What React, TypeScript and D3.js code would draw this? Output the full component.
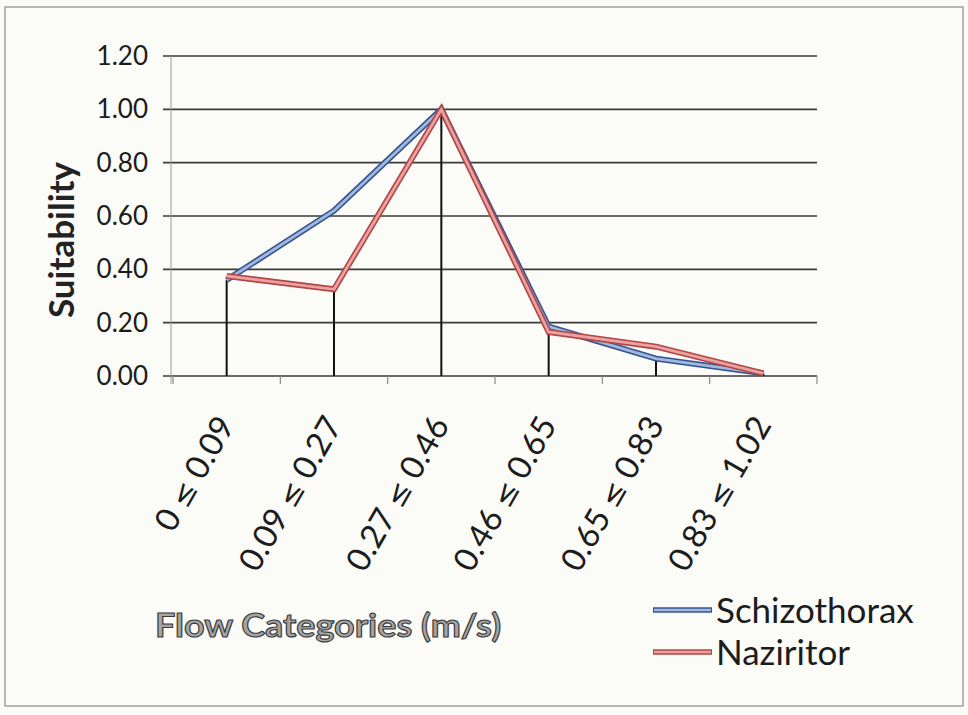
import React from "react";
import * as d3 from "d3";

const categories = ["0 ≤ 0.09", "0.09 ≤ 0.27", "0.27 ≤ 0.46", "0.46 ≤ 0.65", "0.65 ≤ 0.83", "0.83 ≤ 1.02"];
const schizothorax = [0.36, 0.62, 1.0, 0.185, 0.065, 0.01];
const naziritor = [0.375, 0.325, 1.0, 0.165, 0.11, 0.01];
const yTicks = [0, 0.2, 0.4, 0.6, 0.8, 1.0, 1.2];
const seriesNames = ["Schizothorax", "Naziritor"];

const W = 968;
const H = 715;
const FONT = "Lato, 'Open Sans', 'DejaVu Sans', sans-serif";

export default function App() {
  const x = d3.scaleBand<string>().domain(categories).range([173, 817]).paddingInner(0).paddingOuter(0);
  const y = d3.scaleLinear().domain([0, 1.2]).range([376, 56]);
  const cx = (c: string) => (x(c) as number) + x.bandwidth() / 2;

  const line = d3
    .line<number>()
    .x((_, i) => cx(categories[i]))
    .y((v) => y(v));

  const series = [
    { name: seriesNames[0], values: schizothorax, outer: "#34548f", inner: "#a3b8df" },
    { name: seriesNames[1], values: naziritor, outer: "#b34545", inner: "#e8a2a2" },
  ];

  const boundaries = categories.map((c) => x(c) as number).concat([817]);

  return (
    <svg width={W} height={H} style={{ position: "absolute", left: 0, top: 0, background: "#fbfbf8" }}>
      <rect x={5} y={7} width={958} height={699} fill="#fbfbf8" stroke="#8a8a8a" strokeWidth={1.2} />
      {/* gridlines */}
      {yTicks.map((t) => (
        <line key={"g" + t} x1={163} x2={817} y1={y(t)} y2={y(t)} stroke="#3a3a3a" strokeWidth={1.7} />
      ))}
      {/* y axis */}
      <line x1={171} x2={171} y1={y(1.2)} y2={y(0) + 8} stroke="#9a9a9a" strokeWidth={1} />
      {/* x ticks */}
      {boundaries.map((b, i) => (
        <line key={"xt" + i} x1={b} x2={b} y1={y(0)} y2={y(0) + 8} stroke="#8a8a8a" strokeWidth={1.2} />
      ))}
      {/* y tick labels */}
      {yTicks.map((t) => (
        <text key={"yl" + t} x={148} y={y(t)} dy="0.35em" textAnchor="end" fontFamily={FONT} fontSize={26} fill="#1c1c1c">
          {t.toFixed(2)}
        </text>
      ))}
      {/* drop lines */}
      {categories.map((c, i) => (
        <line
          key={"d" + i}
          x1={cx(c)}
          x2={cx(c)}
          y1={y(Math.min(schizothorax[i], naziritor[i]))}
          y2={y(0)}
          stroke="#111"
          strokeWidth={2}
        />
      ))}
      {/* series */}
      {series.map((s) => (
        <g key={s.name}>
          <path d={line(s.values) || ""} fill="none" stroke={s.outer} strokeWidth={6} strokeLinejoin="miter" />
          <path d={line(s.values) || ""} fill="none" stroke={s.inner} strokeWidth={2.8} strokeLinejoin="miter" />
        </g>
      ))}
      {/* x labels */}
      {categories.map((c) => {
        const [a, b] = c.split("≤");
        return (
          <text
            key={"xl" + c}
            transform={`translate(${cx(c) + 9},${425}) rotate(-60)`}
            textAnchor="end"
            fontFamily={FONT}
            fontSize={33}
            fill="#1c1c1c"
          >
            <tspan>{a}</tspan>
            <tspan fontFamily="'DejaVu Sans', sans-serif" fontSize={29}>≤</tspan>
            <tspan>{b}</tspan>
          </text>
        );
      })}
      {/* y title */}
      <text
        transform={`translate(74,240) rotate(-90)`}
        textAnchor="middle"
        fontFamily={FONT}
        fontWeight="bold"
        fontSize={35}
        fill="#222"
      >
        Suitability
      </text>
      {/* x title */}
      <text
        x={155}
        y={637}
        fontFamily={FONT}
        fontWeight="bold"
        fontSize={33}
        textLength={346}
        lengthAdjust="spacingAndGlyphs"
        fill="#a5a5a5"
        stroke="#3a3a3a"
        strokeWidth={1.1}
      >
        Flow Categories (m/s)
      </text>
      {/* legend */}
      {series.map((s, i) => {
        const ly = 610 + i * 42;
        return (
          <g key={"lg" + s.name}>
            <line x1={653} x2={712} y1={ly} y2={ly} stroke={s.outer} strokeWidth={5.5} />
            <line x1={654} x2={711} y1={ly} y2={ly} stroke={s.inner} strokeWidth={2.5} />
            <text x={716} y={ly} dy="0.36em" fontFamily={FONT} fontSize={35} fill="#1c1c1c">
              {s.name}
            </text>
          </g>
        );
      })}
    </svg>
  );
}
